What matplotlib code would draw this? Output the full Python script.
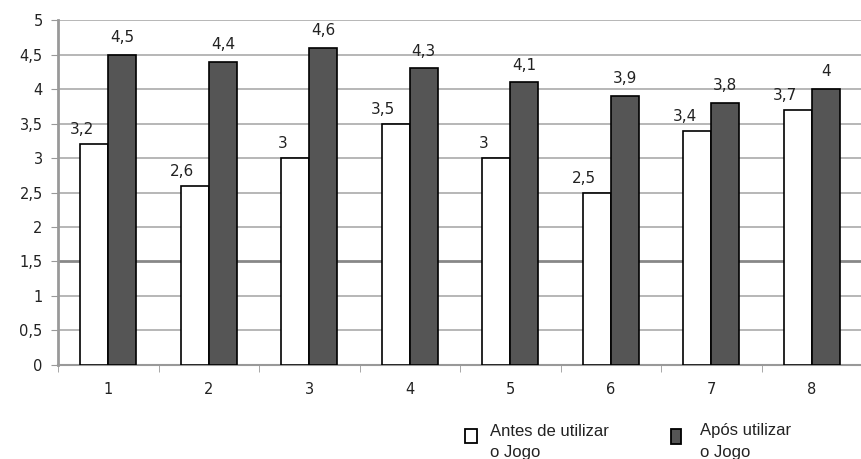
from matplotlib import use
use('agg')
from matplotlib import pyplot as plt
from matplotlib.patches import Rectangle
import numpy as np

categories = ['1', '2', '3', '4', '5', '6', '7', '8']
antes = [3.2, 2.6, 3.0, 3.5, 3.0, 2.5, 3.4, 3.7]
apos = [4.5, 4.4, 4.6, 4.3, 4.1, 3.9, 3.8, 4.0]
antes_labels = ['3,2', '2,6', '3', '3,5', '3', '2,5', '3,4', '3,7']
apos_labels = ['4,5', '4,4', '4,6', '4,3', '4,1', '3,9', '3,8', '4']
yticklabels = ['0', '0,5', '1', '1,5', '2', '2,5', '3', '3,5', '4', '4,5', '5']

plt.rcParams['font.family'] = ['DejaVu Sans']
fig = plt.figure(figsize=(8.62, 4.59), dpi=100)
ax = fig.add_axes([0.0673, 0.205, 0.9327, 0.751])

x = np.arange(1, len(categories) + 1)
w = 0.28
ax.bar(x - w / 2, antes, w, color='white', edgecolor='black', linewidth=1.2, zorder=3)
ax.bar(x + w / 2, apos, w, color='#555555', edgecolor='black', linewidth=1.2, zorder=3)

for xi, v, s in zip(x, antes, antes_labels):
    ax.annotate(s, (xi - w / 2, v), xytext=(-9, 5), textcoords='offset points',
                ha='center', va='bottom', fontsize=11, color='#222222')
for xi, v, s in zip(x, apos, apos_labels):
    ax.annotate(s, (xi + w / 2, v), xytext=(0, 7), textcoords='offset points',
                ha='center', va='bottom', fontsize=11, color='#222222')

ax.set_xlim(0.5, 8.5)
ax.set_ylim(0, 5)
yt = np.arange(0, 5.01, 0.5)
ax.set_yticks(yt)
ax.set_yticklabels(yticklabels, fontsize=10.5, color='#222222')
ax.set_xticks(x)
ax.set_xticklabels(categories, fontsize=10.5, color='#222222')
ax.set_xticks(np.arange(0.5, 8.6, 1), minor=True)
ax.tick_params(axis='x', which='major', length=0, pad=12)
ax.tick_params(axis='x', which='minor', length=5, color='#999999', direction='out')
ax.tick_params(axis='y', length=5, color='#999999', pad=6)

for v in yt[1:]:
    lw = 2.0 if v == 1.5 else 1.2
    col = '#888888' if v == 1.5 else '#aaaaaa'
    ax.axhline(v, color=col, linewidth=lw, zorder=1)

for side in ['top', 'right']:
    ax.spines[side].set_visible(False)
ax.spines['left'].set_color('#999999')
ax.spines['left'].set_linewidth(2)
ax.spines['bottom'].set_color('#999999')
ax.spines['bottom'].set_linewidth(1.5)

# legend
fig.patches.append(Rectangle((465 / 862, 1 - 443 / 459), 12 / 862, 14 / 459,
                             transform=fig.transFigure, facecolor='white',
                             edgecolor='black', linewidth=1.3))
fig.text(490 / 862, 1 - 431 / 459, 'Antes de utilizar', fontsize=12, family='Liberation Sans',
         va='center', color='#222222')
fig.text(490 / 862, 1 - 452 / 459, 'o Jogo', fontsize=12, family='Liberation Sans',
         va='center', color='#222222')
fig.patches.append(Rectangle((671 / 862, 1 - 444 / 459), 10 / 862, 15 / 459,
                             transform=fig.transFigure, facecolor='#555555',
                             edgecolor='black', linewidth=1.3))
fig.text(700 / 862, 1 - 431 / 459, 'Após utilizar', fontsize=12, family='Liberation Sans',
         va='center', color='#222222')
fig.text(700 / 862, 1 - 452 / 459, 'o Jogo', fontsize=12, family='Liberation Sans',
         va='center', color='#222222')

fig.savefig('out.png', dpi=100)
